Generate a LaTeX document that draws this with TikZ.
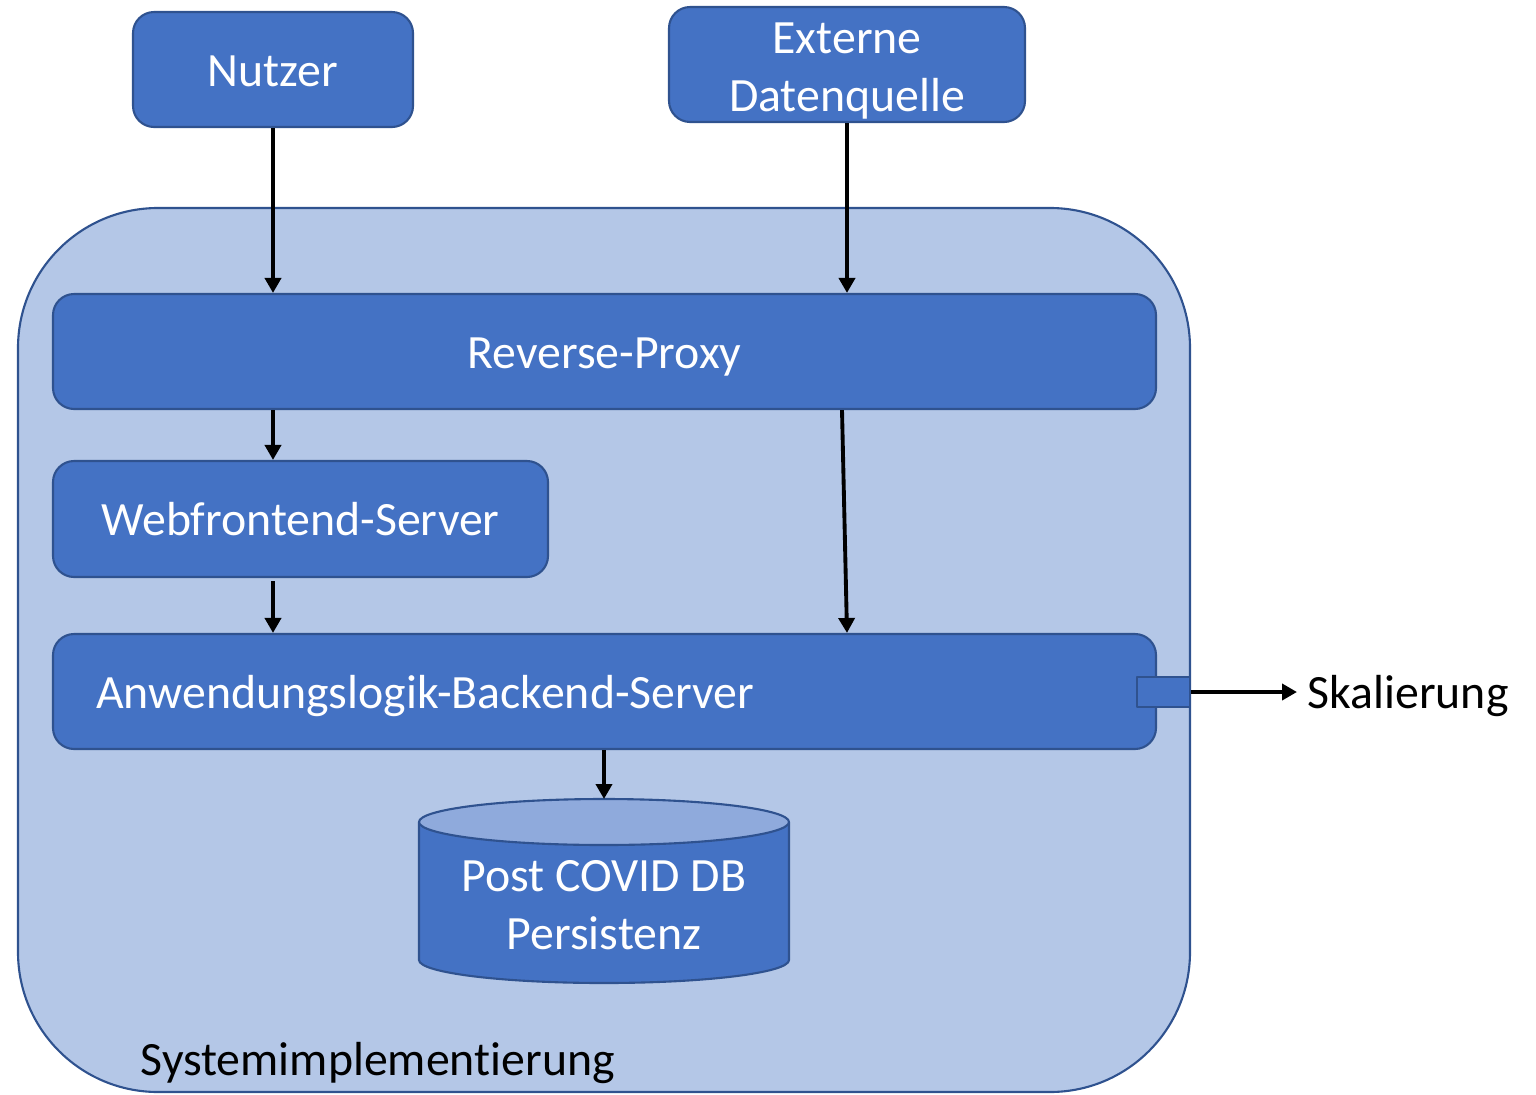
\documentclass[tikz,border=0pt]{standalone}
\usepackage{fontspec}
\setmainfont{Carlito}[Ligatures=NoCommon]
\usepackage{tikz}
\usetikzlibrary{arrows.meta, positioning, calc}
\definecolor{boxblue}{RGB}{68,114,196}
\definecolor{edgeblue}{RGB}{47,82,143}
\definecolor{paleblue}{RGB}{180,199,231}
\definecolor{topblue}{RGB}{143,170,220}
\tikzset{
  box/.style={rectangle, draw=edgeblue, fill=boxblue, text=white,
    align=center, rounded corners=6pt, line width=0.6pt,
    font=\fontsize{13.6}{16.5}\selectfont, inner sep=0pt},
  oneline/.style={text height=0.33cm, text depth=0pt},
  arrow/.style={-{Triangle[length=0.15cm, width=0.16cm]}, line width=1.1pt, color=black},
  plain/.style={font=\fontsize{13.6}{16.5}\selectfont, text=black}
}

\begin{document}
\begin{tikzpicture}[line join=round]
  \useasboundingbox (0,0) rectangle (15.36,-10.94);

  % outer system frame
  \node[draw=edgeblue, fill=paleblue, line width=0.6pt, rounded corners=1.4cm,
    minimum width=11.72cm, minimum height=8.84cm, inner sep=0pt] (sys) at (6.04,-6.50) {};
  \node[plain, anchor=base west, inner sep=0pt] (syslbl) at (1.40,-10.75) {Systemimplementierung};

  \node[box, oneline, minimum width=2.80cm, minimum height=1.15cm] (nutzer) at (2.73,-0.695) {Nutzer};
  \node[box, text height=0.94cm, text depth=0pt, minimum width=3.56cm, minimum height=1.15cm] (extern) at (8.47,-0.645) {Externe\\Datenquelle};
  \node[box, oneline, minimum width=11.03cm, minimum height=1.15cm] (proxy) at (6.045,-3.515) {Reverse-Proxy};
  \node[box, oneline, minimum width=4.95cm, minimum height=1.16cm] (web) at (3.005,-5.19) {Webfrontend-Server};
  \node[box, oneline, align=left, text width=10.17cm, inner xsep=0.43cm, minimum height=1.15cm] (backend) at (6.045,-6.915) {Anwendungslogik-Backend-Server};
  \node[rectangle, draw=edgeblue, fill=boxblue, line width=0.6pt, minimum width=0.53cm,
    minimum height=0.30cm, inner sep=0pt] (port) at (11.635,-6.92) {};
  \node[plain, anchor=west, inner sep=0.1cm, oneline] (skal) at (12.97,-6.92) {Skalierung};

  % database
  \path[draw=edgeblue, fill=boxblue, line width=0.6pt]
    (4.19,-8.22) -- (4.19,-9.60) arc[start angle=180, end angle=360, x radius=1.85cm, y radius=0.23cm]
    -- (7.89,-8.22) -- cycle;
  \path[draw=edgeblue, fill=topblue, line width=0.6pt]
    (6.04,-8.22) ellipse[x radius=1.85cm, y radius=0.23cm];
  \coordinate (dbtop) at (6.04,-7.99);
  \node[box, draw=none, fill=none] (db) at (6.04,-9.05) {Post COVID DB\\Persistenz};

  \draw[arrow] (nutzer.south) -- (nutzer.south |- proxy.north);
  \draw[arrow] (extern.south) -- (extern.south |- proxy.north);
  \draw[arrow] (proxy.south -| nutzer.south) -- (web.north -| nutzer.south);
  \draw[arrow] ([xshift=-0.05cm]proxy.south -| extern.south) -- (backend.north -| extern.south);
  \draw[arrow] ([yshift=-0.03cm]web.south -| nutzer.south) -- (backend.north -| nutzer.south);
  \draw[arrow] (backend.south -| dbtop) -- (dbtop);
  \draw[arrow] (port.east) -- (skal.west);
\end{tikzpicture}
\end{document}
